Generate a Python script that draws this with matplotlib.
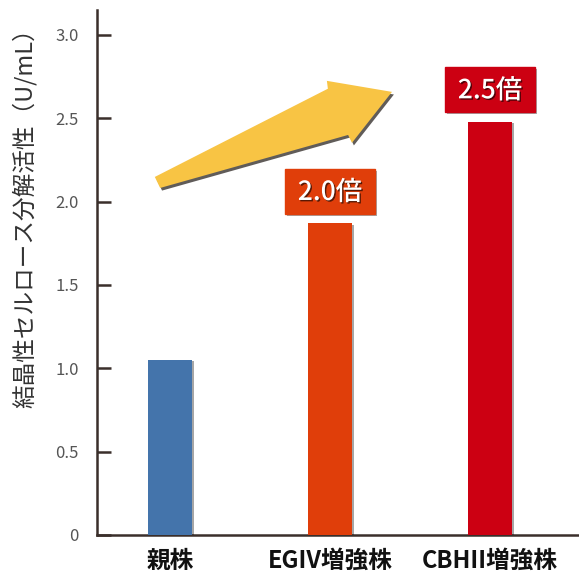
import numpy as np
import matplotlib.pyplot as plt
import matplotlib.patheffects as pe
from matplotlib.patches import Polygon, Rectangle
from matplotlib.transforms import offset_copy

plt.rcParams['font.family'] = ['Noto Sans CJK JP', 'DejaVu Sans']

strains = ['親株', 'EGIV増強株', 'CBHII増強株']
activity = [1.05, 1.87, 2.48]
colors = ['#4474ab', '#e03e0a', '#cc0012']
fold_labels = ['', '2.0倍', '2.5倍']
yticks = [0, 0.5, 1.0, 1.5, 2.0, 2.5, 3.0]
ytick_labels = ['0', '0.5', '1.0', '1.5', '2.0', '2.5', '3.0']

axis_col = '#3a2f2b'

fig = plt.figure(figsize=(5.79, 5.74), dpi=100)
ax = fig.add_axes([0.1675, 0.068, 0.8325, 0.9146])

x = np.arange(len(strains))
shadow = [pe.withSimplePatchShadow(offset=(1.5, -1), shadow_rgbFace='k', alpha=0.35)]
bars = ax.bar(x, activity, width=0.275, color=colors, zorder=3)
for b in bars:
    b.set_path_effects(shadow)

# fold-change boxes above the bars
for xi, val, lab, c in zip(x, activity, fold_labels, colors):
    if not lab:
        continue
    box = Rectangle((xi - 0.28, val + 0.055), 0.56, 0.27, color=c, zorder=4)
    box.set_path_effects(shadow)
    ax.add_patch(box)
    ax.text(xi, val + 0.055 + 0.13, lab, color='white', fontsize=19,
            fontweight='medium', ha='center', va='center', zorder=5,
            path_effects=[pe.withSimplePatchShadow(offset=(1, -1), shadow_rgbFace='k', alpha=0.6)])

# yellow trend arrow (axes fraction)
arrow_pts = np.array([
    [0.120, 0.682], [0.479, 0.850], [0.477, 0.865], [0.612, 0.844],
    [0.529, 0.747], [0.521, 0.762], [0.131, 0.661]])
ax.add_patch(Polygon(arrow_pts + [0.004, -0.005], closed=True, transform=ax.transAxes,
                     color='#2b2522', alpha=0.75, zorder=5, lw=0))
ax.add_patch(Polygon(arrow_pts, closed=True, transform=ax.transAxes,
                     color='#f8c444', zorder=6, lw=0))

ax.set_xlim(-0.456, 2.556)
ax.set_ylim(0, 3.15)
ax.set_yticks(yticks)
ax.set_yticklabels(ytick_labels)
ax.set_xticks(x)
ax.set_xticklabels(strains, fontsize=17, fontweight='bold', color='#111111')
# the middle label sits a little left of its bar
lab = ax.get_xticklabels()[1]
lab.set_transform(offset_copy(lab.get_transform(), fig=fig, x=-10, units='dots'))

ax.tick_params(axis='y', direction='in', length=10, width=1.8, color=axis_col,
               pad=13, labelsize=12, labelcolor='#555555')
ax.tick_params(axis='x', length=0, pad=10)

for s in ['top', 'right']:
    ax.spines[s].set_visible(False)
for s in ['left', 'bottom']:
    ax.spines[s].set_color(axis_col)
    ax.spines[s].set_linewidth(1.8)

ax.set_ylabel('結晶性セルロース分解活性（U/mL）', fontsize=17, color='#333333')
ax.yaxis.set_label_coords(-0.125, 0.615)

fig.savefig('out.png', dpi=100)
